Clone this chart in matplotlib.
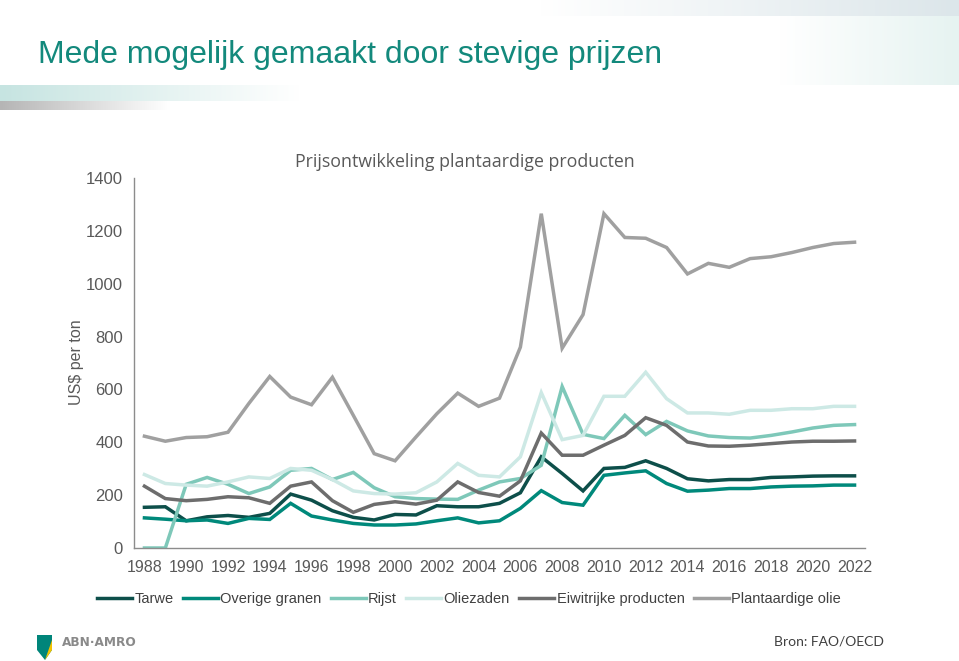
import numpy as np
import matplotlib.pyplot as plt
from matplotlib.patches import Polygon

years = list(range(1988, 2023))

tarwe = [154, 156, 103, 118, 123, 116, 131, 204, 181, 141, 116, 106, 127, 125, 160, 156, 156, 169, 209, 345,
         282, 216, 301, 305, 330, 301, 262, 254, 259, 259, 267, 269, 272, 273, 273]
overige_granen = [114, 109, 103, 106, 93, 112, 108, 169, 121, 106, 93, 87, 87, 91, 103, 114, 95, 103, 150, 217,
                  172, 162, 275, 284, 292, 244, 215, 219, 225, 225, 231, 234, 235, 238, 238]
rijst = [0, 0, 241, 267, 241, 206, 231, 294, 301, 259, 286, 228, 194, 187, 185, 184, 219, 250, 263, 313,
         611, 430, 414, 502, 429, 479, 443, 424, 418, 416, 426, 439, 454, 464, 467]
oliezaden = [278, 244, 238, 234, 250, 269, 263, 301, 294, 259, 216, 206, 204, 209, 250, 320, 275, 269, 345, 588,
             410, 426, 574, 574, 665, 565, 511, 511, 506, 521, 521, 527, 527, 536, 536]
eiwitrijk = [234, 187, 179, 184, 194, 190, 169, 234, 250, 179, 135, 165, 175, 166, 181, 250, 210, 196, 254, 435,
             351, 351, 389, 426, 493, 464, 401, 386, 385, 389, 395, 401, 404, 404, 405]
plant_olie = [423, 404, 418, 421, 438, 547, 649, 571, 542, 646, 502, 357, 330, 420, 508, 586, 536, 567, 760, 1265,
              756, 883, 1265, 1175, 1172, 1137, 1037, 1077, 1062, 1095, 1102, 1118, 1137, 1152, 1157]

series_names = ["Tarwe", "Overige granen", "Rijst", "Oliezaden", "Eiwitrijke producten", "Plantaardige olie"]
series_values = [tarwe, overige_granen, rijst, oliezaden, eiwitrijk, plant_olie]
colors = ["#0d4f4a", "#00897b", "#7ec8b9", "#cde9e5", "#6d6d6d", "#a0a0a0"]

W, H = 959, 661
fig = plt.figure(figsize=(W / 100, H / 100), dpi=100)

# background decoration (pixel coordinates)
bg = fig.add_axes([0, 0, 1, 1], zorder=0)
bg.axis("off")


def hgrad(x0, x1, y0, y1, c_left, c_right):
    t = np.linspace(0, 1, 256)
    c0 = np.array(plt.matplotlib.colors.to_rgb(c_left))
    c1 = np.array(plt.matplotlib.colors.to_rgb(c_right))
    img = (c0[None, :] * (1 - t[:, None]) + c1[None, :] * t[:, None])[None, :, :]
    bg.imshow(img, extent=(x0, x1, y1, y0), aspect="auto", interpolation="bilinear")


hgrad(540, 959, 0, 16, "#ffffff", "#dce6ea")
hgrad(780, 959, 16, 85, "#ffffff", "#e6f3f1")
hgrad(0, 300, 85, 101, "#c6e4e1", "#ffffff")
hgrad(0, 170, 101, 110, "#b5b5b5", "#ffffff")
bg.set_xlim(0, W)
bg.set_ylim(H, 0)

# logo
bg.add_patch(Polygon([(37, 635), (52, 635), (52, 650), (45, 660), (37, 650)], closed=True,
                     facecolor="#00857a", edgecolor="none"))
bg.add_patch(Polygon([(52, 640), (52, 650), (45, 660)], closed=True,
                     facecolor="#f2c200", edgecolor="none"))
bg.text(62, 643, "ABN·AMRO", fontsize=8.7, color="#8a8a8a", fontweight="bold",
        family="DejaVu Sans", va="center", ha="left")

fig.text(38 / W, 1 - 55 / H, "Mede mogelijk gemaakt door stevige prijzen", fontsize=23,
         color="#13897c", family="Liberation Sans", va="center", ha="left")
fig.text(884 / W, 1 - 642 / H, "Bron: FAO/OECD", fontsize=10, color="#404040",
         family="Lato", va="center", ha="right")

ax = fig.add_axes([134 / W, 1 - 548 / H, (865 - 134) / W, (548 - 178) / H], zorder=2)
ax.patch.set_alpha(0)

for name, vals, col in zip(series_names, series_values, colors):
    ax.plot(years, vals, color=col, lw=2.5, label=name, solid_joinstyle="miter")

ax.set_xlim(1987.5, 2022.5)
ax.set_ylim(0, 1400)
ax.set_xticks(years[::2])
ax.set_yticks(range(0, 1401, 200))
ax.tick_params(length=0, labelsize=12, labelcolor="#595959", pad=8)
ax.tick_params(axis="x", labelsize=11.5, pad=9)
for s in ["top", "right"]:
    ax.spines[s].set_visible(False)
for s in ["left", "bottom"]:
    ax.spines[s].set_color("#8c8c8c")
    ax.spines[s].set_linewidth(1)
for lab in ax.get_xticklabels() + ax.get_yticklabels():
    lab.set_family("Liberation Sans")

fig.text(77 / W, 1 - 362 / H, "US$ per ton", rotation=90, fontsize=11.5, color="#595959",
         family="Liberation Sans", va="center", ha="center")
fig.text(465 / W, 1 - 162 / H, "Prijsontwikkeling plantaardige producten", fontsize=12.8,
         color="#595959", family="Open Sans", va="center", ha="center")

fig.legend(loc="center", bbox_to_anchor=(469 / W, 1 - 599 / H), ncol=6, frameon=False,
           handlelength=2.4, handletextpad=0.15, columnspacing=0.65,
           prop={"family": "Liberation Sans", "size": 10.5}, labelcolor="#404040")

fig.savefig("out.png", dpi=100)
